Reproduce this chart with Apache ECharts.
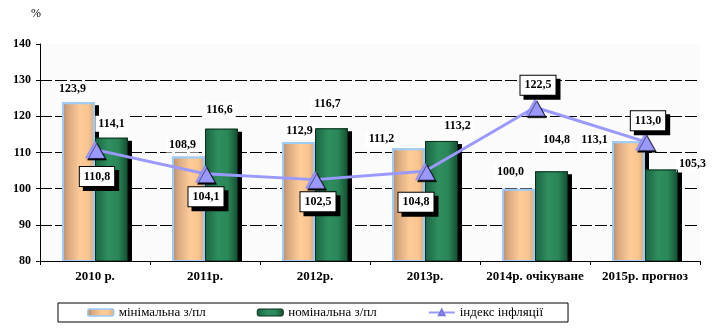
<!DOCTYPE html>
<html>
<head>
<meta charset="utf-8">
<script src="https://cdn.jsdelivr.net/npm/echarts@6/dist/echarts.min.js"></script>
<style>
  html, body { margin: 0; padding: 0; background: #fff; }
  #chart { width: 716px; height: 329px; }
</style>
</head>
<body>
<div id="chart"></div>
<script>
// Wage and inflation indices, % to previous year
const categories = ['2010 р.', '2011р.', '2012р.', '2013р.', '2014р. очікуване', '2015р. прогноз'];
const minWage = [123.9, 108.9, 112.9, 111.2, 100.0, 113.1];
const nominalWage = [114.1, 116.6, 116.7, 113.2, 104.8, 105.3];
const inflation = [110.8, 104.1, 102.5, 104.8, 122.5, 113.0];
const yTicks = { min: 80, max: 140, step: 10 };

// Label placement tweaks (pixels) so the value labels do not collide
const minLabelShift = [[-6, 0], [-6, 1], [1, 2], [-27, 4], [-8, -4], [-34, 12]];
const nomLabelShift = [[0, -1], [-2, -6], [-4, -11], [16, -2], [5, -18], [31, 7]];
const infLabelShift = [[2, 27], [1, 23], [3, 22], [-9, 31], [3, -22], [3, -21]];

const serif = '"Liberation Serif", "Times New Roman", serif';
const fmt = v => v.toFixed(1).replace('.', ',');

const GRID = { left: 40, right: 16, top: 44, bottom: 68 };

const barLabel = {
  show: true,
  position: 'top',
  distance: 5,
  color: '#000',
  fontFamily: serif,
  fontWeight: 'bold',
  fontSize: 12,
  backgroundColor: '#fff',
  padding: [2, 3],
  formatter: p => fmt(p.value)
};

const minFill = new echarts.graphic.LinearGradient(0, 0, 1, 0, [
  { offset: 0, color: '#b88a66' },
  { offset: 0.2, color: '#d9aa80' },
  { offset: 0.55, color: '#ffcc99' },
  { offset: 0.8, color: '#f8c58f' },
  { offset: 1, color: '#d6a47a' }
]);
const nomFill = new echarts.graphic.LinearGradient(0, 0, 1, 0, [
  { offset: 0, color: '#1a6341' },
  { offset: 0.4, color: '#2f8f5e' },
  { offset: 0.7, color: '#2a8657' },
  { offset: 1, color: '#134d31' }
]);

const dropShadow = { shadowColor: '#000', shadowBlur: 0, shadowOffsetX: 4, shadowOffsetY: 3 };

const chart = echarts.init(document.getElementById('chart'), null, { renderer: 'canvas' });

chart.setOption({
  animation: false,
  backgroundColor: '#fff',
  grid: Object.assign({ show: true, backgroundColor: '#fbfbfb', borderWidth: 0 }, GRID),
  legend: {
    left: 58, top: 303,
    padding: [3, 25, 3, 29],
    itemGap: 51,
    itemWidth: 26,
    itemHeight: 7,
    borderColor: '#000',
    borderWidth: 1,
    textStyle: { fontFamily: serif, fontSize: 13, color: '#000' },
    itemStyle: { shadowColor: 'transparent', shadowBlur: 0, shadowOffsetX: 0, shadowOffsetY: 0 },
    data: [
      { name: 'мінімальна з/пл', itemStyle: { borderColor: '#99ccff', borderWidth: 1.5 } },
      { name: 'номінальна з/пл', itemStyle: { borderColor: '#0b2e1c', borderWidth: 1 } },
      { name: 'індекс інфляції' }
    ]
  },
  // white strip under the plot hides the part of the bar shadows below the axis
  graphic: [{
    type: 'rect',
    z: 5,
    silent: true,
    shape: { x: GRID.left - 1, y: 329 - GRID.bottom + 0.5, width: 716 - GRID.left - GRID.right + 8, height: 5 },
    style: { fill: '#fff' }
  }],
  xAxis: [{
    type: 'category',
    data: categories,
    z: 10,
    axisLine: { lineStyle: { color: '#000', width: 1 } },
    axisTick: { show: true, length: 4, lineStyle: { color: '#000' } },
    axisLabel: {
      interval: 0,
      color: '#000', fontFamily: serif, fontWeight: 'bold', fontSize: 13, margin: 9
    }
  }, {
    // hidden twin axis used to stroke the bar outlines without a shadow
    type: 'category',
    data: categories,
    show: false
  }],
  yAxis: {
    type: 'value',
    min: yTicks.min, max: yTicks.max, interval: yTicks.step,
    name: '%',
    nameLocation: 'end',
    nameGap: 24,
    nameTextStyle: { fontFamily: serif, fontSize: 12, color: '#000', padding: [0, 8, 0, 0] },
    axisLine: { show: true, lineStyle: { color: '#000', width: 1 } },
    axisTick: { show: true, length: 4, lineStyle: { color: '#000' } },
    axisLabel: {
      color: '#000', fontFamily: serif, fontWeight: 'bold', fontSize: 12, margin: 9
    },
    splitLine: {
      show: true, showMaxLine: false,
      lineStyle: { color: '#000', width: 1, type: [12, 3] }
    }
  },
  series: [
    {
      name: 'мінімальна з/пл',
      type: 'bar',
      barGap: '0%',
      barCategoryGap: '40%',
      z: 2,
      itemStyle: Object.assign({ color: minFill }, dropShadow),
      label: barLabel,
      data: minWage.map((v, i) => ({
        value: v,
        label: { offset: minLabelShift[i] }
      }))
    },
    {
      name: 'номінальна з/пл',
      type: 'bar',
      z: 2,
      itemStyle: Object.assign({ color: nomFill }, dropShadow),
      label: barLabel,
      data: nominalWage.map((v, i) => ({
        value: v,
        label: { offset: nomLabelShift[i] }
      }))
    },
    {
      name: 'outline-min',
      type: 'bar',
      xAxisIndex: 1,
      barGap: '0%',
      barCategoryGap: '40%',
      z: 3,
      silent: true,
      itemStyle: { color: 'rgba(0,0,0,0)', borderColor: '#99ccff', borderWidth: 2 },
      data: minWage
    },
    {
      name: 'outline-nom',
      type: 'bar',
      xAxisIndex: 1,
      z: 3,
      silent: true,
      itemStyle: { color: 'rgba(0,0,0,0)', borderColor: '#0b2e1c', borderWidth: 1 },
      data: nominalWage
    },
    {
      name: 'індекс інфляції',
      type: 'line',
      z: 6,
      symbol: 'triangle',
      symbolSize: [19, 17],
      lineStyle: { color: '#9999ff', width: 3 },
      itemStyle: {
        color: '#9999ff', borderColor: '#7777dd', borderWidth: 0.5,
        shadowColor: '#000', shadowBlur: 0, shadowOffsetX: 2, shadowOffsetY: 2
      },
      label: {
        show: true,
        position: 'inside',
        color: '#000',
        fontFamily: serif,
        fontWeight: 'bold',
        fontSize: 12,
        backgroundColor: '#fff',
        borderColor: '#000',
        borderWidth: 1,
        padding: [4, 4, 3, 4],
        shadowColor: '#000',
        shadowBlur: 0,
        shadowOffsetX: 4,
        shadowOffsetY: 4,
        formatter: p => fmt(p.value)
      },
      data: inflation.map((v, i) => ({
        value: v,
        label: { offset: infLabelShift[i] }
      }))
    }
  ]
});
</script>
</body>
</html>
